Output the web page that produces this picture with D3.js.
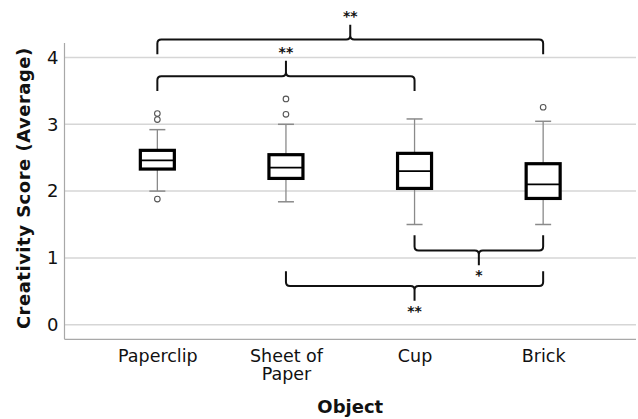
<!DOCTYPE html>
<html><head><meta charset="utf-8">
<script src="https://cdn.jsdelivr.net/npm/d3@7"></script>
<style>html,body{margin:0;padding:0;background:#fff;}svg{display:block;}</style>
</head><body>
<svg id="c" width="638" height="419"></svg>
<script>
const categories = ["Paperclip", "Sheet of\nPaper", "Cup", "Brick"];
const whiskerLow = [2.00, 1.84, 1.50, 1.50];
const q1 = [2.33, 2.19, 2.04, 1.89];
const median = [2.46, 2.35, 2.30, 2.10];
const q3 = [2.61, 2.545, 2.565, 2.41];
const whiskerHigh = [2.92, 3.00, 3.08, 3.045];
const outliers = [[3.16, 3.07, 1.88], [3.38, 3.15], [], [3.255]];
const yTicks = [0, 1, 2, 3, 4];
// significance brackets: [fromIndex, toIndex, label, endY, barY, tipY]
const brackets = [
  [0, 3, "**", 4.05, 4.27, 4.49],
  [0, 2, "**", 3.50, 3.72, 3.95],
  [2, 3, "*", 1.34, 1.11, 0.89],
  [1, 3, "**", 0.80, 0.58, 0.36]
];

const svg = d3.select("#c");
const font = "DejaVu Sans, sans-serif";
const left = 64.5, right = 636, axisTop = 43, axisBottom = 339.3;
const x = d3.scalePoint().domain(d3.range(categories.length)).range([left, right]).padding(0.722);
const y = d3.scaleLinear().domain([0, 4]).range([324.7, 57.5]);

// gridlines
svg.append("g").selectAll("line").data(yTicks).join("line")
  .attr("x1", left).attr("x2", right)
  .attr("y1", d => y(d)).attr("y2", d => y(d))
  .attr("stroke", "#d6d6d6").attr("stroke-width", 1.5);

// axes
const yAxis = svg.append("g").attr("transform", `translate(${left},0)`)
  .call(d3.axisLeft(y).tickValues(yTicks).tickSize(0).tickPadding(6).tickFormat(d3.format("d")));
yAxis.select(".domain").remove();
yAxis.selectAll("text").attr("font-family", font).attr("font-size", 18).attr("fill", "#111");
svg.append("line").attr("x1", left).attr("x2", left).attr("y1", axisTop).attr("y2", axisBottom)
  .attr("stroke", "#a8a8a8").attr("stroke-width", 1.2);
svg.append("line").attr("x1", left).attr("x2", right).attr("y1", axisBottom).attr("y2", axisBottom)
  .attr("stroke", "#a8a8a8").attr("stroke-width", 1.2);

const xAxis = svg.append("g").attr("transform", `translate(0,${axisBottom})`)
  .call(d3.axisBottom(x).tickSize(0).tickFormat(""));
xAxis.select(".domain").remove();
xAxis.selectAll(".tick").each(function(d) {
  const lines = categories[d].split("\n");
  const t = d3.select(this).append("text").attr("fill", "#111")
    .attr("font-family", font).attr("font-size", 17.5).attr("text-anchor", "middle");
  lines.forEach((ln, i) => t.append("tspan").attr("x", 0).attr("y", 22.5 + i * 18.5).text(ln));
});

// boxes
const bw = 34, cap = 16;
const g = svg.append("g");
categories.forEach((c, i) => {
  const cx = x(i);
  g.append("line").attr("x1", cx).attr("x2", cx).attr("y1", y(whiskerHigh[i])).attr("y2", y(q3[i]))
    .attr("stroke", "#8a8a8a").attr("stroke-width", 1.3);
  g.append("line").attr("x1", cx).attr("x2", cx).attr("y1", y(q1[i])).attr("y2", y(whiskerLow[i]))
    .attr("stroke", "#8a8a8a").attr("stroke-width", 1.3);
  [whiskerHigh[i], whiskerLow[i]].forEach(v => {
    g.append("line").attr("x1", cx - cap / 2).attr("x2", cx + cap / 2).attr("y1", y(v)).attr("y2", y(v))
      .attr("stroke", "#8a8a8a").attr("stroke-width", 1.5);
  });
  g.append("rect").attr("x", cx - bw / 2).attr("y", y(q3[i])).attr("width", bw)
    .attr("height", y(q1[i]) - y(q3[i])).attr("fill", "#fff").attr("stroke", "#000").attr("stroke-width", 3.2);
  g.append("line").attr("x1", cx - bw / 2).attr("x2", cx + bw / 2).attr("y1", y(median[i])).attr("y2", y(median[i]))
    .attr("stroke", "#000").attr("stroke-width", 1.8);
  outliers[i].forEach(v => {
    g.append("circle").attr("cx", cx).attr("cy", y(v)).attr("r", 2.8)
      .attr("fill", "none").attr("stroke", "#555").attr("stroke-width", 1.1);
  });
});

// brackets
const bg = svg.append("g");
brackets.forEach(([a, b, label, endV, barV, tipV]) => {
  const x1 = x(a), x2 = x(b), xm = (x1 + x2) / 2;
  const ye = y(endV), yb = y(barV), yt = y(tipV);
  const dir = yt < yb ? -1 : 1; // tip direction
  const r = 4;
  const p = d3.path();
  p.moveTo(x1, ye);
  p.lineTo(x1, yb - dir * r);
  p.quadraticCurveTo(x1, yb, x1 + r, yb);
  p.lineTo(xm - r, yb);
  p.quadraticCurveTo(xm, yb, xm, yb + dir * r);
  p.lineTo(xm, yt);
  p.moveTo(xm, yb + dir * r);
  p.quadraticCurveTo(xm, yb, xm + r, yb);
  p.lineTo(x2 - r, yb);
  p.quadraticCurveTo(x2, yb, x2, yb - dir * r);
  p.lineTo(x2, ye);
  bg.append("path").attr("d", p.toString()).attr("fill", "none")
    .attr("stroke", "#111").attr("stroke-width", 2).attr("stroke-linejoin", "round");
  bg.append("text").attr("x", xm).attr("y", dir < 0 ? yt - 4 : yt + 15)
    .attr("text-anchor", "middle").attr("font-family", font).attr("font-weight", "bold")
    .attr("font-size", 14).attr("fill", "#111").text(label);
});

// titles
svg.append("text").attr("transform", `translate(25,${(axisTop + axisBottom) / 2 - 3}) rotate(-90)`)
  .attr("text-anchor", "middle").attr("dominant-baseline", "middle")
  .attr("font-family", font).attr("font-weight", "bold").attr("font-size", 18)
  .attr("letter-spacing", 0.5).attr("fill", "#111")
  .text("Creativity Score (Average)");
svg.append("text").attr("x", (left + right) / 2).attr("y", 413)
  .attr("text-anchor", "middle").attr("font-family", font).attr("font-weight", "bold")
  .attr("font-size", 18).attr("fill", "#111").text("Object");
</script>
</body></html>
